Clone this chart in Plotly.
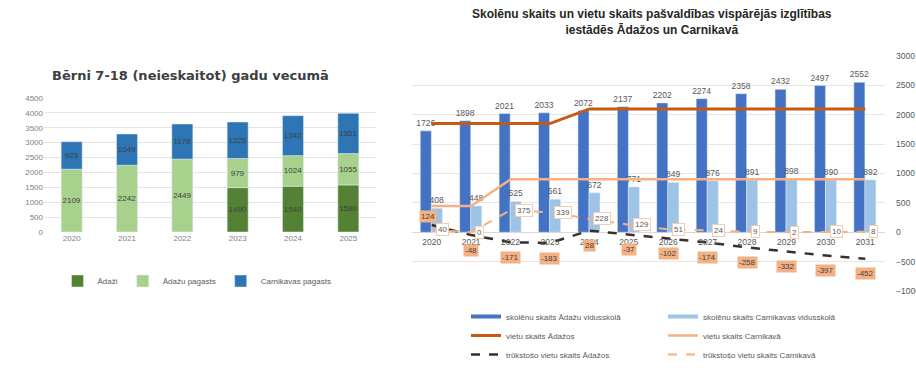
import plotly.graph_objects as go

# ---------------- Left chart data ----------------
years_left = ["2020", "2021", "2022", "2023", "2024", "2025"]
adazi = [0, 0, 0, 1490, 1540, 1580]
adazu_pagasts = [2109, 2242, 2449, 979, 1024, 1055]
carnikavas_pagasts = [923, 1049, 1178, 1225, 1342, 1351]

# ---------------- Right chart data ----------------
years_right = ["2020", "2021", "2022", "2023", "2024", "2025",
               "2026", "2027", "2028", "2029", "2030", "2031"]
skoleni_adazi = [1726, 1898, 2021, 2033, 2072, 2137, 2202, 2274, 2358, 2432, 2497, 2552]
skoleni_carnikava = [408, 448, 525, 561, 672, 771, 849, 876, 891, 898, 890, 892]
vietas_adazi = [1850, 1850, 1850, 1850, 2100, 2100, 2100, 2100, 2100, 2100, 2100, 2100]
vietas_carnikava = [448, 448, 900, 900, 900, 900, 900, 900, 900, 900, 900, 900]
trukst_adazi = [124, -48, -171, -183, 28, -37, -102, -174, -258, -332, -397, -452]
trukst_carnikava = [40, 0, 375, 339, 228, 129, 51, 24, 9, 2, 10, 8]

W, H = 916, 370
def px(x): return x / W
def py(y): return 1 - y / H

C_DARKGREEN = "#548235"
C_LIGHTGREEN = "#A9D18E"
C_BLUE_L = "#2E75B6"
C_BLUE = "#4472C4"
C_LBLUE = "#9DC3E6"
C_BROWN = "#C55A11"
C_LORANGE = "#F4B183"
C_DASHDARK = "#3B2F2A"
GREY = "#595959"

fig = go.Figure()

def lbl(vals):
    return [str(v) if v else "" for v in vals]

# Left stacked bars (stacked via base = sum of the series below)
left_series = [("Ādaži", adazi, C_DARKGREEN),
               ("Ādažu pagasts", adazu_pagasts, C_LIGHTGREEN),
               ("Carnikavas pagasts", carnikavas_pagasts, C_BLUE_L)]
base = [0] * len(years_left)
for name, vals, col in left_series:
    fig.add_trace(go.Bar(
        x=years_left, y=vals, base=list(base), name=name, marker_color=col,
        width=0.38,
        text=lbl(vals), textposition="inside", insidetextanchor="middle",
        textfont=dict(size=8, color="#404040"), textangle=0, constraintext="none",
        xaxis="x", yaxis="y", legend="legend",
    ))
    base = [b + v for b, v in zip(base, vals)]

# Right grouped bars
fig.add_trace(go.Bar(
    x=years_right, y=skoleni_adazi, name="skolēnu skaits Ādažu vidusskolā",
    marker_color=C_BLUE, text=[str(v) for v in skoleni_adazi],
    width=0.28, offset=-0.29, constraintext="none",
    textposition="outside", textfont=dict(size=8.5, color=GREY),
    cliponaxis=False, xaxis="x2", yaxis="y2", showlegend=False,
))
fig.add_trace(go.Bar(
    x=years_right, y=skoleni_carnikava, name="skolēnu skaits Carnikavas vidusskolā",
    marker_color=C_LBLUE, text=[str(v) for v in skoleni_carnikava],
    width=0.28, offset=-0.01, constraintext="none",
    textposition="outside", textfont=dict(size=8.5, color=GREY),
    cliponaxis=False, xaxis="x2", yaxis="y2", showlegend=False,
))
# Lines
fig.add_trace(go.Scatter(
    x=years_right, y=vietas_adazi, mode="lines", name="vietu skaits Ādažos",
    line=dict(color=C_BROWN, width=3), xaxis="x2", yaxis="y2", showlegend=False,
))
fig.add_trace(go.Scatter(
    x=years_right, y=vietas_carnikava, mode="lines", name="vietu skaits Carnikavā",
    line=dict(color=C_LORANGE, width=2.5), xaxis="x2", yaxis="y2", showlegend=False,
))
fig.add_trace(go.Scatter(
    x=years_right, y=trukst_adazi, mode="lines", name="trūkstošo vietu skaits Ādažos",
    line=dict(color=C_DASHDARK, width=2.5, dash="dash"), xaxis="x2", yaxis="y2", showlegend=False,
))
fig.add_trace(go.Scatter(
    x=years_right, y=trukst_carnikava, mode="lines", name="trūkstošo vietu skaits Carnikavā",
    line=dict(color=C_LORANGE, width=2, dash="dash"), xaxis="x2", yaxis="y2", showlegend=False,
))

# Legend entries for right chart (two columns)
leg_items = [
    ("skolēnu skaits Ādažu vidusskolā", C_BLUE, 4, "solid", "legend2"),
    ("vietu skaits Ādažos", C_BROWN, 3, "solid", "legend2"),
    ("trūkstošo vietu skaits Ādažos", C_DASHDARK, 2.5, "dash", "legend2"),
    ("skolēnu skaits Carnikavas vidusskolā", C_LBLUE, 4, "solid", "legend3"),
    ("vietu skaits Carnikavā", C_LORANGE, 2.5, "solid", "legend3"),
    ("trūkstošo vietu skaits Carnikavā", C_LORANGE, 2, "dash", "legend3"),
]
for name, col, wdt, dash, lg in leg_items:
    fig.add_trace(go.Scatter(
        x=[years_right[0]], y=[None], mode="lines", name=name,
        line=dict(color=col, width=wdt, dash=dash),
        xaxis="x2", yaxis="y2", legend=lg, showlegend=True,
    ))

annotations = []
# Titles
annotations.append(dict(
    text="<b>Bērni 7-18 (neieskaitot) gadu vecumā</b>", x=px(190), y=py(75),
    xref="paper", yref="paper", showarrow=False, xanchor="center", yanchor="middle",
    font=dict(family="DejaVu Sans", size=13, color="#404040"),
))
annotations.append(dict(
    text="<b>Skolēnu skaits un vietu skaits pašvaldības vispārējās izglītības<br>iestādēs Ādažos un Carnikavā</b>",
    x=px(652), y=py(22), xref="paper", yref="paper", showarrow=False,
    xanchor="center", yanchor="middle",
    font=dict(family="Liberation Sans", size=12, color="#262626"),
))

# Shortage labels (x given as category index on the category axis)
for i, v in enumerate(trukst_adazi):
    annotations.append(dict(
        x=i, y=v, xref="x2", yref="y2", text=str(v), showarrow=False,
        yshift=8 if i == 0 else -15, xshift=-4 if i == 0 else 0,
        bgcolor=C_LORANGE, font=dict(size=8, color="#404040"), borderpad=1,
    ))
for i, v in enumerate(trukst_carnikava):
    annotations.append(dict(
        x=i, y=v, xref="x2", yref="y2", text=str(v), showarrow=False,
        xanchor="left", xshift=4, bgcolor="white", bordercolor="#F8CBAD",
        borderwidth=1, font=dict(size=8, color=GREY), borderpad=1,
    ))

y0_frac = py(232)

fig.update_layout(
    width=W, height=H, margin=dict(l=0, r=0, t=0, b=0, autoexpand=False),
    paper_bgcolor="white", plot_bgcolor="white",
    font=dict(family="Liberation Sans", color=GREY),
    barmode="overlay",
    showlegend=True,
    xaxis=dict(domain=[px(44), px(376)], anchor="y", type="category", showgrid=False,
               tickfont=dict(size=8, color="#7F7F7F"), showline=False, ticks=""),
    yaxis=dict(domain=[py(232), py(98)], anchor="x", range=[0, 4500], dtick=500,
               showgrid=True, gridcolor="#E4E4E4", zeroline=False,
               tickfont=dict(size=8, color="#7F7F7F")),
    xaxis2=dict(domain=[px(412), px(885)], anchor="free", position=y0_frac, type="category",
                range=[-0.5, 11.5], autorange=False,
                showgrid=False, showline=False, ticks="", ticklabelstandoff=3,
                tickfont=dict(size=8.5, color=GREY)),
    yaxis2=dict(domain=[py(291), py(56)], anchor="x2", side="right",
                range=[-1000, 3000], dtick=500, showgrid=True, gridcolor="#E6E6E6",
                zeroline=True, zerolinecolor="#D9D9D9", zerolinewidth=1,
                ticklabelstandoff=10,
                tickfont=dict(size=8.5, color=GREY)),
    legend=dict(orientation="h", x=px(197), y=py(281), xanchor="center", yanchor="middle",
                font=dict(size=8, color=GREY), bgcolor="rgba(0,0,0,0)", itemwidth=30),
    legend2=dict(x=px(466), y=py(302), xanchor="left", yanchor="top",
                 font=dict(size=8, color=GREY), bgcolor="rgba(0,0,0,0)",
                 itemwidth=30, tracegroupgap=0),
    legend3=dict(x=px(663), y=py(302), xanchor="left", yanchor="top",
                 font=dict(size=8, color=GREY), bgcolor="rgba(0,0,0,0)",
                 itemwidth=30, tracegroupgap=0),
    annotations=annotations,
)

fig.write_html("out.html", config={"displayModeBar": False},
               post_script="document.body.style.margin='0';")
